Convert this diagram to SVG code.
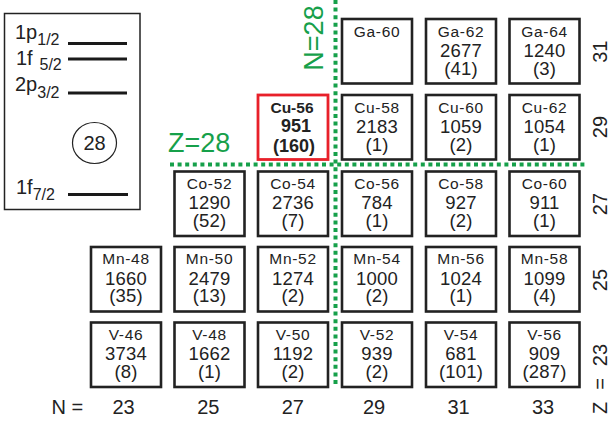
<svg xmlns="http://www.w3.org/2000/svg" width="610" height="424" viewBox="0 0 610 424">
<style>
  text { font-family: "Liberation Sans", Arial, Helvetica, sans-serif; fill: #222; }
  .box { fill: #fff; stroke: #222; stroke-width: 2.6; }
  .red { fill: #fff; stroke: #e8202a; stroke-width: 2.8; }
  .nm { font-size: 15.5px; letter-spacing: 0.7px; text-anchor: middle; }
  .num { font-size: 18.5px; letter-spacing: 0.2px; text-anchor: middle; }
  .bnm { font-size: 15.5px; font-weight: bold; text-anchor: middle; }
  .bnum { font-size: 18px; font-weight: bold; text-anchor: middle; }
  .magic { stroke: #16a04a; stroke-width: 4; stroke-dasharray: 4 3.6; fill: none; }
  .green { fill: #16a04a; font-size: 27px; }
  .lvl { stroke: #1a1a1a; stroke-width: 3.2; }
  .lbl { font-size: 20px; }
  .sub { font-size: 16px; }
  .axis { font-size: 20px; text-anchor: middle; }
</style>

<g id="shell-panel">
  <rect x="4.5" y="13.5" width="135.5" height="196" fill="#fff" stroke="#222" stroke-width="1.5"/>
  <line class="lvl" x1="68" y1="43.5" x2="127" y2="43.5"/>
  <line class="lvl" x1="68" y1="59" x2="127" y2="59"/>
  <line class="lvl" x1="68" y1="93" x2="127" y2="93"/>
  <line class="lvl" x1="68" y1="194.5" x2="128" y2="194.5"/>
  <text class="lbl" x="15" y="38.5">1p<tspan class="sub" y="45">1/2</tspan></text>
  <text class="lbl" x="16" y="65">1f<tspan class="sub" x="39.5" y="70">5/2</tspan></text>
  <text class="lbl" x="15" y="91">2p<tspan class="sub" y="98">3/2</tspan></text>
  <text class="lbl" x="16" y="194">1f<tspan class="sub" y="200">7/2</tspan></text>
  <ellipse cx="94.5" cy="143" rx="22" ry="20.5" fill="none" stroke="#222" stroke-width="1.2"/>
  <text x="94.5" y="150" font-size="20" text-anchor="middle">28</text>
</g>

<g id="magic-lines">
  <line class="magic" x1="170" y1="164.5" x2="588" y2="164.5"/>
  <line class="magic" x1="335.5" y1="0" x2="335.5" y2="386"/>
  <text class="green" x="168" y="152">Z=28</text>
  <text class="green" transform="translate(323,38) rotate(-90)" text-anchor="middle">N=28</text>
</g>

<!-- Ga row -->
<g id="Ga-60"><rect class="box" x="342" y="19" width="70" height="64.5"/><text class="nm" x="377" y="36.5">Ga-60</text></g>
<g id="Ga-62"><rect class="box" x="426" y="19" width="70" height="64.5"/><text class="nm" x="461" y="36.5">Ga-62</text><text class="num" x="461" y="56.5">2677</text><text class="num" x="461" y="74.5">(41)</text></g>
<g id="Ga-64"><rect class="box" x="509.5" y="19" width="70" height="64.5"/><text class="nm" x="544.5" y="36.5">Ga-64</text><text class="num" x="544.5" y="56.5">1240</text><text class="num" x="544.5" y="74.5">(3)</text></g>

<!-- Cu row -->
<g id="Cu-56"><rect class="red" x="258" y="95" width="70" height="64.5"/><text class="bnm" x="292" y="113.3">Cu-56</text><text class="bnum" x="296" y="131.7">951</text><text class="bnum" x="294" y="151.7">(160)</text></g>
<g id="Cu-58"><rect class="box" x="342" y="95" width="70" height="64.5"/><text class="nm" x="377" y="112.5">Cu-58</text><text class="num" x="377" y="132.5">2183</text><text class="num" x="377" y="150.5">(1)</text></g>
<g id="Cu-60"><rect class="box" x="426" y="95" width="70" height="64.5"/><text class="nm" x="461" y="112.5">Cu-60</text><text class="num" x="461" y="132.5">1059</text><text class="num" x="461" y="150.5">(2)</text></g>
<g id="Cu-62"><rect class="box" x="509.5" y="95" width="70" height="64.5"/><text class="nm" x="544.5" y="112.5">Cu-62</text><text class="num" x="544.5" y="132.5">1054</text><text class="num" x="544.5" y="150.5">(1)</text></g>

<!-- Co row -->
<g id="Co-52"><rect class="box" x="174.5" y="171.5" width="70" height="64.5"/><text class="nm" x="209.5" y="188.5">Co-52</text><text class="num" x="209.5" y="209">1290</text><text class="num" x="209.5" y="226.5">(52)</text></g>
<g id="Co-54"><rect class="box" x="258" y="171.5" width="70" height="64.5"/><text class="nm" x="293" y="188.5">Co-54</text><text class="num" x="293" y="209">2736</text><text class="num" x="293" y="226.5">(7)</text></g>
<g id="Co-56"><rect class="box" x="342" y="171.5" width="70" height="64.5"/><text class="nm" x="377" y="188.5">Co-56</text><text class="num" x="377" y="209">784</text><text class="num" x="377" y="226.5">(1)</text></g>
<g id="Co-58"><rect class="box" x="426" y="171.5" width="70" height="64.5"/><text class="nm" x="461" y="188.5">Co-58</text><text class="num" x="461" y="209">927</text><text class="num" x="461" y="226.5">(2)</text></g>
<g id="Co-60"><rect class="box" x="509.5" y="171.5" width="70" height="64.5"/><text class="nm" x="544.5" y="188.5">Co-60</text><text class="num" x="544.5" y="209">911</text><text class="num" x="544.5" y="226.5">(1)</text></g>

<!-- Mn row -->
<g id="Mn-48"><rect class="box" x="91" y="247" width="70" height="64.5"/><text class="nm" x="126" y="264">Mn-48</text><text class="num" x="126" y="284.5">1660</text><text class="num" x="126" y="302">(35)</text></g>
<g id="Mn-50"><rect class="box" x="174.5" y="247" width="70" height="64.5"/><text class="nm" x="209.5" y="264">Mn-50</text><text class="num" x="209.5" y="284.5">2479</text><text class="num" x="209.5" y="302">(13)</text></g>
<g id="Mn-52"><rect class="box" x="258" y="247" width="70" height="64.5"/><text class="nm" x="293" y="264">Mn-52</text><text class="num" x="293" y="284.5">1274</text><text class="num" x="293" y="302">(2)</text></g>
<g id="Mn-54"><rect class="box" x="342" y="247" width="70" height="64.5"/><text class="nm" x="377" y="264">Mn-54</text><text class="num" x="377" y="284.5">1000</text><text class="num" x="377" y="302">(2)</text></g>
<g id="Mn-56"><rect class="box" x="426" y="247" width="70" height="64.5"/><text class="nm" x="461" y="264">Mn-56</text><text class="num" x="461" y="284.5">1024</text><text class="num" x="461" y="302">(1)</text></g>
<g id="Mn-58"><rect class="box" x="509.5" y="247" width="70" height="64.5"/><text class="nm" x="544.5" y="264">Mn-58</text><text class="num" x="544.5" y="284.5">1099</text><text class="num" x="544.5" y="302">(4)</text></g>

<!-- V row -->
<g id="V-46"><rect class="box" x="91" y="322.5" width="70" height="64.5"/><text class="nm" x="126" y="339.5">V-46</text><text class="num" x="126" y="360">3734</text><text class="num" x="126" y="377.5">(8)</text></g>
<g id="V-48"><rect class="box" x="174.5" y="322.5" width="70" height="64.5"/><text class="nm" x="209.5" y="339.5">V-48</text><text class="num" x="209.5" y="360">1662</text><text class="num" x="209.5" y="377.5">(1)</text></g>
<g id="V-50"><rect class="box" x="258" y="322.5" width="70" height="64.5"/><text class="nm" x="293" y="339.5">V-50</text><text class="num" x="293" y="360">1192</text><text class="num" x="293" y="377.5">(2)</text></g>
<g id="V-52"><rect class="box" x="342" y="322.5" width="70" height="64.5"/><text class="nm" x="377" y="339.5">V-52</text><text class="num" x="377" y="360">939</text><text class="num" x="377" y="377.5">(2)</text></g>
<g id="V-54"><rect class="box" x="426" y="322.5" width="70" height="64.5"/><text class="nm" x="461" y="339.5">V-54</text><text class="num" x="461" y="360">681</text><text class="num" x="461" y="377.5">(101)</text></g>
<g id="V-56"><rect class="box" x="509.5" y="322.5" width="70" height="64.5"/><text class="nm" x="544.5" y="339.5">V-56</text><text class="num" x="544.5" y="360">909</text><text class="num" x="544.5" y="377.5">(287)</text></g>

<g id="axis-N">
  <text x="51.5" y="414" font-size="20">N =</text>
  <text class="axis" x="123.5" y="414">23</text>
  <text class="axis" x="208.3" y="414">25</text>
  <text class="axis" x="292.8" y="414">27</text>
  <text class="axis" x="374" y="414">29</text>
  <text class="axis" x="458.5" y="414">31</text>
  <text class="axis" x="543" y="414">33</text>
</g>

<g id="axis-Z">
  <text class="axis" transform="translate(607,51.7) rotate(-90)">31</text>
  <text class="axis" transform="translate(607,127) rotate(-90)">29</text>
  <text class="axis" transform="translate(607,204) rotate(-90)">27</text>
  <text class="axis" transform="translate(607,280) rotate(-90)">25</text>
  <text class="axis" transform="translate(607,355) rotate(-90)">23</text>
  <text class="axis" transform="translate(607,384) rotate(-90)">=</text>
  <text class="axis" transform="translate(607,408) rotate(-90)">Z</text>
</g>
</svg>
